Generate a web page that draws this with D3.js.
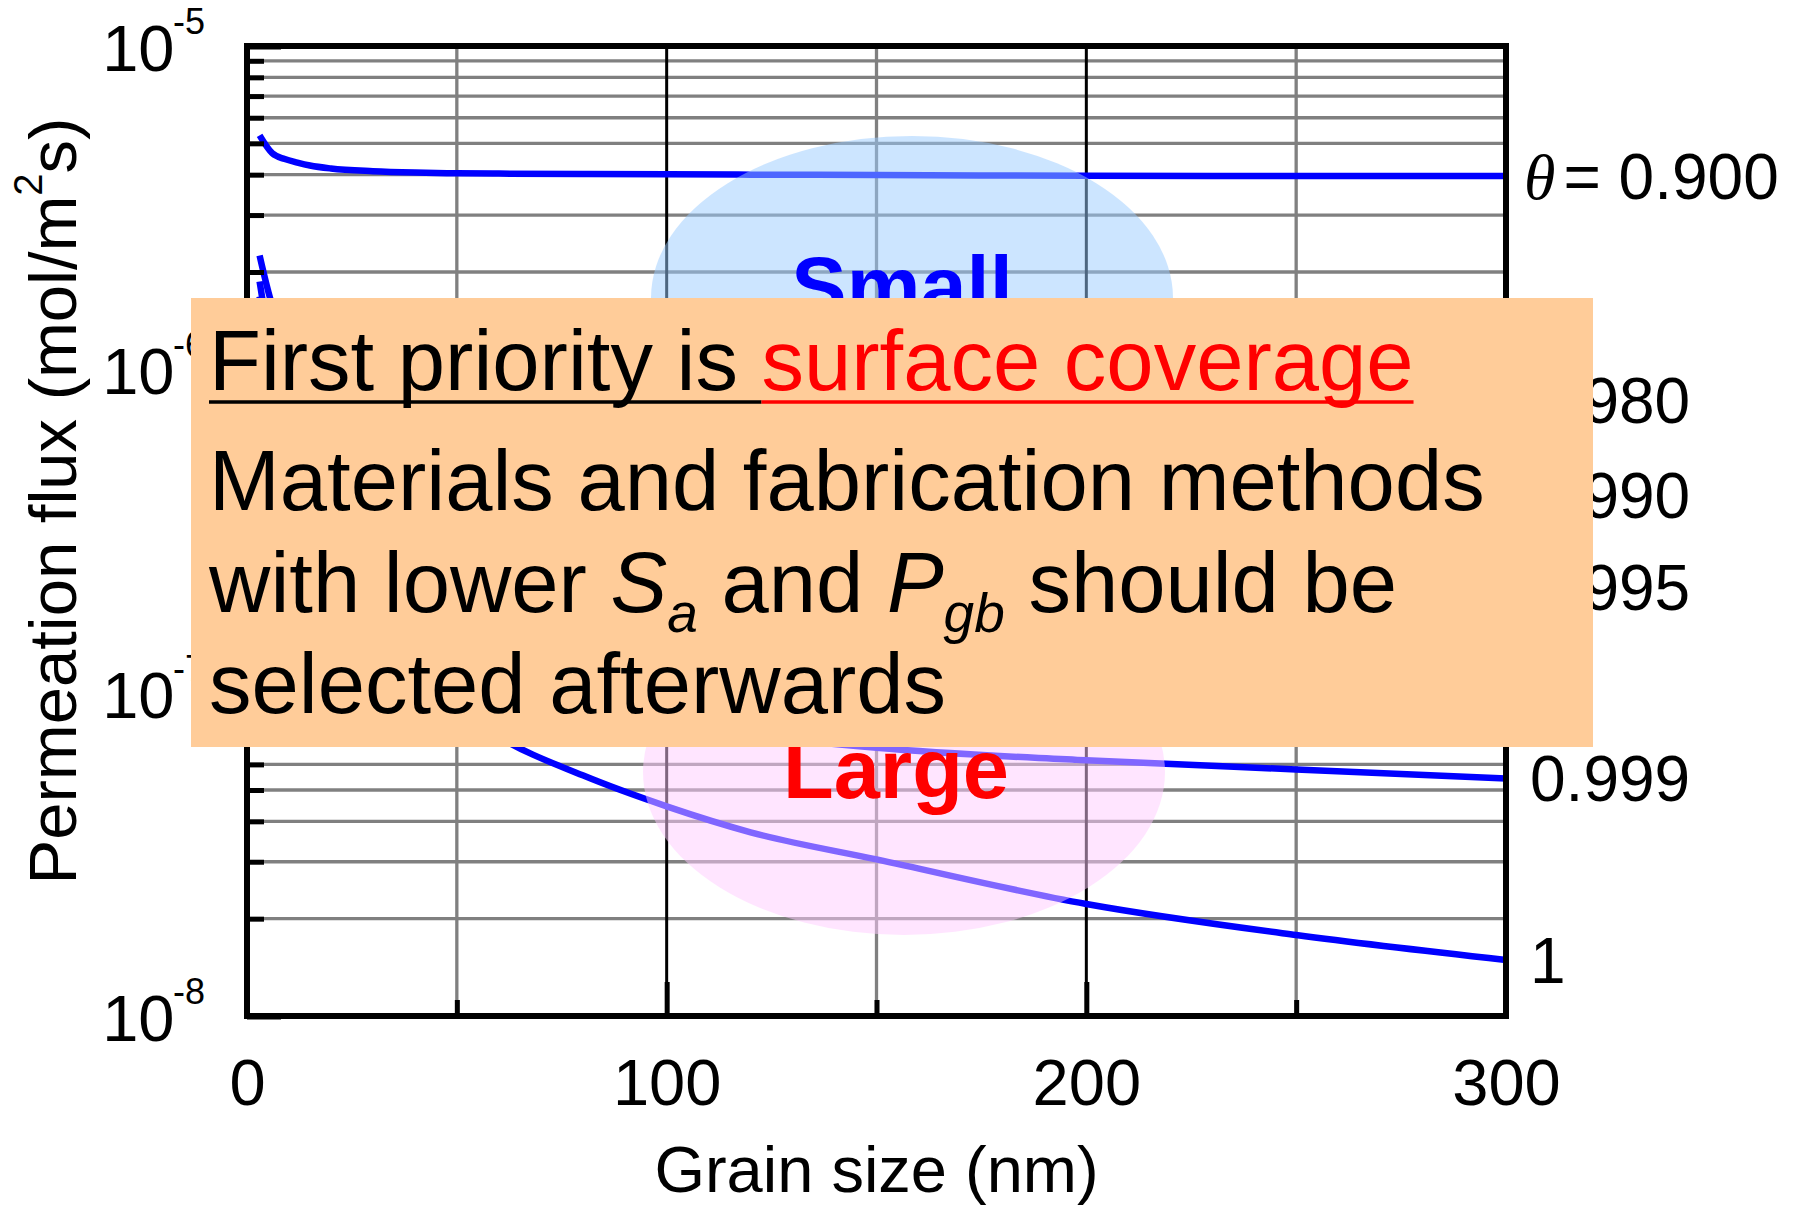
<!DOCTYPE html>
<html>
<head>
<meta charset="utf-8">
<script src="https://cdn.jsdelivr.net/npm/d3@7"></script>
<style>
  body { margin: 0; background: #fff; }
  svg { display: block; font-family: "Liberation Sans", Arial, sans-serif; }
</style>
</head>
<body>
<svg id="chart" width="1806" height="1205"></svg>
<script>
// Grain size (nm) where each curve was read
const grainSize = [3, 6, 9, 12, 15, 20, 30, 40, 50, 60, 80, 100, 120, 150, 200, 250, 300];

// Permeation flux (mol/m2s), one array per surface coverage
const flux0900 = [5.29e-6, 4.66e-6, 4.47e-6, 4.36e-6, 4.27e-6, 4.18e-6, 4.10e-6, 4.06e-6, 4.04e-6, 4.03e-6, 4.02e-6, 4.01e-6, 4.00e-6, 3.99e-6, 3.97e-6, 3.96e-6, 3.96e-6];
const flux0980 = [2.25e-6, 1.58e-6, 1.30e-6, 1.17e-6, 1.09e-6, 1.01e-6, 9.36e-7, 9.00e-7, 8.78e-7, 8.63e-7, 8.45e-7, 8.34e-7, 8.27e-7, 8.19e-7, 8.12e-7, 8.08e-7, 8.05e-7];
const flux0990 = [1.87e-6, 1.13e-6, 8.87e-7, 7.64e-7, 6.90e-7, 6.16e-7, 5.43e-7, 5.06e-7, 4.84e-7, 4.69e-7, 4.50e-7, 4.39e-7, 4.32e-7, 4.25e-7, 4.17e-7, 4.13e-7, 4.10e-7];
const flux0995 = [1.68e-6, 9.39e-7, 6.92e-7, 5.68e-7, 4.94e-7, 4.20e-7, 3.46e-7, 3.09e-7, 2.86e-7, 2.72e-7, 2.53e-7, 2.42e-7, 2.35e-7, 2.27e-7, 2.20e-7, 2.15e-7, 2.12e-7];
const flux0999 = [1.53e-6, 7.84e-7, 5.36e-7, 4.12e-7, 3.37e-7, 2.63e-7, 1.88e-7, 1.51e-7, 1.29e-7, 1.14e-7, 9.40e-8, 8.25e-8, 7.45e-8, 6.75e-8, 6.18e-8, 5.79e-8, 5.43e-8];
const flux1000 = [1.49e-6, 7.45e-7, 4.97e-7, 3.73e-7, 2.98e-7, 2.24e-7, 1.49e-7, 1.12e-7, 8.94e-8, 7.30e-8, 5.55e-8, 4.45e-8, 3.70e-8, 3.05e-8, 2.22e-8, 1.78e-8, 1.49e-8];

const coverageLabels = ["0.900", "0.980", "0.990", "0.995", "0.999", "1"];
const xTicks = [0, 100, 200, 300];
const xMinorTicks = [50, 150, 250];
const yDecades = [-8, -7, -6, -5];

const width = 1806, height = 1205;
const margin = { left: 247, right: 300, top: 46, bottom: 189 };

const svg = d3.select("#chart");

const x = d3.scaleLinear().domain([0, 300]).range([margin.left, width - margin.right]);
const y = d3.scaleLog().domain([1e-8, 1e-5]).range([height - margin.bottom, margin.top]);

const series = [flux0900, flux0980, flux0990, flux0995, flux0999, flux1000]
    .map((vals, i) => ({ label: coverageLabels[i], values: vals.map((v, j) => ({ d: grainSize[j], f: v })) }));

// Grid
const grid = svg.append("g");
grid.selectAll("line.h").data(y.ticks().filter(v => v > 1.01e-8 && v < 0.99e-5))
    .enter().append("line")
    .attr("x1", x(0)).attr("x2", x(300))
    .attr("y1", d => y(d)).attr("y2", d => y(d))
    .attr("stroke", "#808080").attr("stroke-width", 3.3);
grid.selectAll("line.vm").data(xMinorTicks).enter().append("line")
    .attr("x1", d => x(d)).attr("x2", d => x(d))
    .attr("y1", y(1e-5)).attr("y2", y(1e-8))
    .attr("stroke", "#808080").attr("stroke-width", 3.3);
grid.selectAll("line.vM").data([100, 200]).enter().append("line")
    .attr("x1", d => x(d)).attr("x2", d => x(d))
    .attr("y1", y(1e-5)).attr("y2", y(1e-8))
    .attr("stroke", "#000").attr("stroke-width", 3);

// Curves
const line = d3.line().curve(d3.curveMonotoneX).x(d => x(d.d)).y(d => y(d.f));
svg.append("g").selectAll("path").data(series).enter().append("path")
    .attr("d", d => line(d.values))
    .attr("fill", "none").attr("stroke", "#0000ff").attr("stroke-width", 6.5)
    .attr("stroke-linejoin", "round");

// Highlight ellipses (semi-transparent, over the curves)
svg.append("ellipse").attr("cx", 912).attr("cy", 298).attr("rx", 261).attr("ry", 162)
    .attr("fill", "#99ccff").attr("fill-opacity", 0.5);
svg.append("ellipse").attr("cx", 904).attr("cy", 772).attr("rx", 261).attr("ry", 163)
    .attr("fill", "#ffccff").attr("fill-opacity", 0.5);
svg.append("text").attr("x", 902).attr("y", 315).attr("text-anchor", "middle")
    .attr("font-size", 83).attr("font-weight", "bold").attr("fill", "#0000ff").text("Small");
svg.append("text").attr("x", 896).attr("y", 798).attr("text-anchor", "middle")
    .attr("font-size", 83).attr("font-weight", "bold").attr("fill", "#ff0000").text("Large");

// Ticks (inward)
const yMinor = svg.append("g").attr("transform", `translate(${margin.left},0)`)
    .call(d3.axisRight(y).tickValues(y.ticks().filter(v => Math.abs(Math.log10(v) % 1) > 0.01)).tickSize(17).tickFormat(""));
const yMajor = svg.append("g").attr("transform", `translate(${margin.left},0)`)
    .call(d3.axisRight(y).tickValues(yDecades.map(k => Math.pow(10, k))).tickSize(34).tickFormat(""));
yMinor.selectAll("line").attr("stroke-width", 5);
yMajor.selectAll("line").attr("stroke-width", 6);
const xMinor = svg.append("g").attr("transform", `translate(0,${y(1e-8)})`)
    .call(d3.axisTop(x).tickValues(xMinorTicks).tickSize(16).tickFormat(""));
const xMajor = svg.append("g").attr("transform", `translate(0,${y(1e-8)})`)
    .call(d3.axisTop(x).tickValues(xTicks).tickSize(34).tickFormat(""));
xMinor.selectAll("line").attr("stroke-width", 5);
xMajor.selectAll("line").attr("stroke-width", 5);
svg.selectAll(".domain").remove();

// Frame
svg.append("rect").attr("x", x(0)).attr("y", y(1e-5))
    .attr("width", x(300) - x(0)).attr("height", y(1e-8) - y(1e-5))
    .attr("fill", "none").attr("stroke", "#000").attr("stroke-width", 6);

// X tick labels
const xAx = svg.append("g").attr("transform", `translate(0,${y(1e-8)})`)
    .call(d3.axisBottom(x).tickValues(xTicks).tickSize(0).tickPadding(43));
xAx.select(".domain").remove();
xAx.selectAll("text").attr("font-size", 65).attr("font-family", "Liberation Sans, Arial, sans-serif").attr("fill", "#000");

// Y tick labels 10^k
const yLab = svg.append("g").selectAll("g").data(yDecades).enter().append("g");
yLab.append("text").attr("x", 174.5).attr("y", d => y(Math.pow(10, d)) + 25)
    .attr("text-anchor", "end").attr("font-size", 65).text("10");
yLab.append("text").attr("x", 173).attr("y", d => y(Math.pow(10, d)) - 12)
    .attr("font-size", 36).text(d => "-" + Math.abs(d));

// Axis titles
svg.append("text").attr("x", (x(0) + x(300)) / 2).attr("y", 1192).attr("text-anchor", "middle")
    .attr("font-size", 65).text("Grain size (nm)");
const yt = svg.append("text").attr("transform", "translate(76,501) rotate(-90)")
    .attr("text-anchor", "middle").attr("font-size", 67);
yt.append("tspan").text("Permeation flux (mol/m");
yt.append("tspan").attr("font-size", 40).attr("dy", -34).text("2");
yt.append("tspan").attr("dy", 34).text("s)");

// Right-hand curve labels
const rl = svg.append("g").selectAll("text").data(series).enter().append("text")
    .attr("x", (d, i) => i === 0 ? 1524 : 1530)
    .attr("y", d => y(d.values[d.values.length - 1].f) + 23)
    .attr("font-size", 64);
rl.filter((d, i) => i === 0).append("tspan")
    .attr("font-family", "Liberation Serif, Times New Roman, serif").attr("font-style", "italic").text("θ");
rl.filter((d, i) => i === 0).append("tspan").attr("dx", 8).text(d => "= " + d.label);
rl.filter((d, i) => i > 0).text(d => d.label);

// Annotation box
svg.append("rect").attr("x", 191).attr("y", 298).attr("width", 1402).attr("height", 449)
    .attr("fill", "#ffcc99");
const tx = 209, fs = 85;
const part1 = "First priority is ", part2 = "surface coverage";
const l1 = svg.append("text").attr("x", tx).attr("y", 390).attr("font-size", fs);
l1.append("tspan").attr("fill", "#000").text(part1);
l1.append("tspan").attr("fill", "#ff0000").text(part2);
const w1 = l1.node().getSubStringLength(0, part1.length);
const wAll = l1.node().getComputedTextLength();
svg.append("line").attr("x1", tx).attr("x2", tx + w1).attr("y1", 402).attr("y2", 402)
    .attr("stroke", "#000").attr("stroke-width", 3.5);
svg.append("line").attr("x1", tx + w1).attr("x2", tx + wAll).attr("y1", 402).attr("y2", 402)
    .attr("stroke", "#ff0000").attr("stroke-width", 3.5);

svg.append("text").attr("x", tx).attr("y", 510).attr("font-size", fs)
    .text("Materials and fabrication methods");
const l3 = svg.append("text").attr("x", tx).attr("y", 612).attr("font-size", fs);
l3.append("tspan").text("with lower ");
l3.append("tspan").attr("font-style", "italic").text("S");
l3.append("tspan").attr("font-style", "italic").attr("font-size", 55).attr("dy", 20).text("a");
l3.append("tspan").attr("dy", -20).text(" and ");
l3.append("tspan").attr("font-style", "italic").text("P");
l3.append("tspan").attr("font-style", "italic").attr("font-size", 55).attr("dy", 20).text("gb");
l3.append("tspan").attr("dy", -20).text(" should be");
svg.append("text").attr("x", tx).attr("y", 713).attr("font-size", fs)
    .text("selected afterwards");
</script>
</body>
</html>
